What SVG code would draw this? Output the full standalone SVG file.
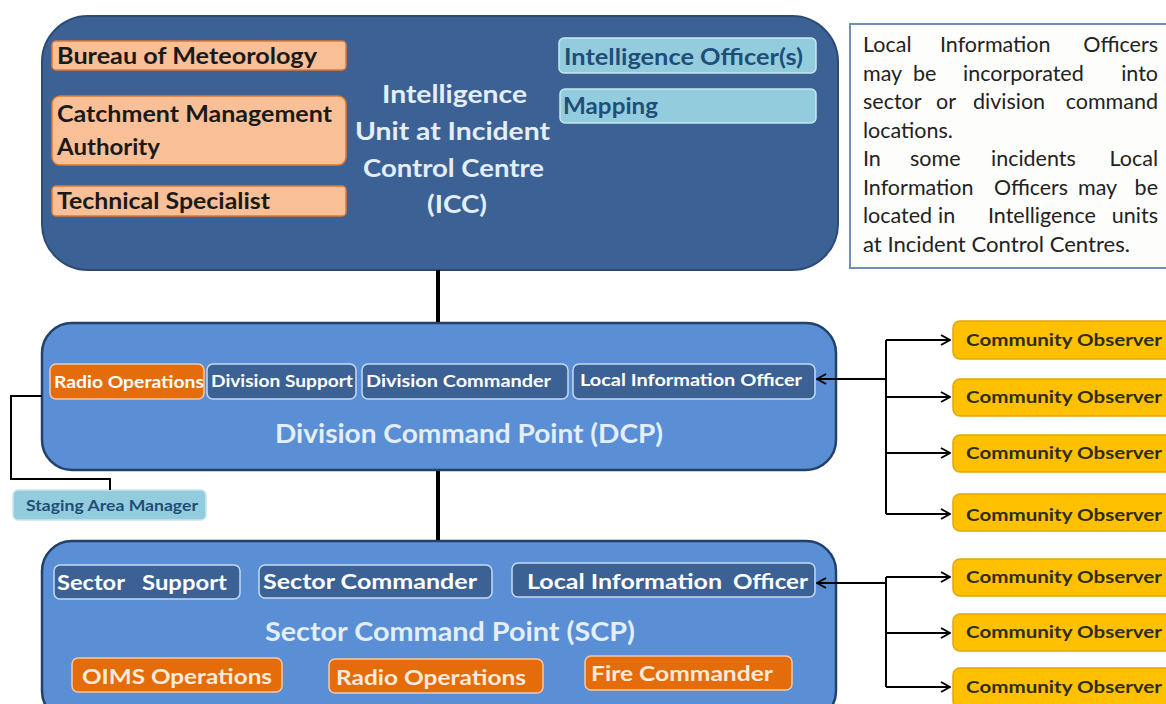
<svg xmlns="http://www.w3.org/2000/svg" width="1166" height="704" viewBox="0 0 1166 704">
  <defs>
    <style>
      text { font-family: Lato, "Open Sans", "Liberation Sans", sans-serif; font-weight: bold; }
      .big { fill: #3c6194; stroke: #2c4a75; stroke-width: 2; }
      .mid { fill: #5a8fd6; stroke: #23416b; stroke-width: 2.5; }
      .peach { fill: #f9bf97; stroke: #e07a2e; stroke-width: 1.5; }
      .peach-t { fill: #1a1a1a; font-size: 22px; }
      .aqua { fill: #93cddd; stroke: #c9e6ef; stroke-width: 1.5; }
      .aqua-t { fill: #1f4e79; font-size: 22px; }
      .navy { fill: #3c6194; stroke: #c6d9f0; stroke-width: 1.5; }
      .navy-t { fill: #ffffff; font-size: 17px; }
      .navy-l { fill: #ffffff; font-size: 21px; }
      .orange { fill: #e46c0a; stroke: #f6c9a5; stroke-width: 1.5; }
      .orange-t { fill: #fdeada; font-size: 21px; }
      .gold { fill: #ffc000; stroke: #e0a800; stroke-width: 1.5; }
      .gold-t { fill: #2d2d1a; font-size: 17px; }
      .title { fill: #e4eef8; font-size: 25px; }
      .note { font-weight: normal; font-size: 21.5px; fill: #222; }
      .end { text-anchor: end; }
      .wire { fill: none; stroke: #000; stroke-width: 2; }
      .trunk { fill: none; stroke: #000; stroke-width: 4; }
    </style>
    <marker id="arr" viewBox="0 0 12 12" refX="11" refY="6" markerWidth="12" markerHeight="12" markerUnits="userSpaceOnUse" orient="auto">
      <path d="M2,1 L11,6 L2,11" fill="none" stroke="#000" stroke-width="2"/>
    </marker>
  </defs>
  <rect width="1166" height="704" fill="#ffffff"/>

  <!-- Intelligence unit -->
  <g id="icc">
    <rect class="big" x="42" y="16" width="796" height="254" rx="46"/>
    <text class="title" x="382" y="103" textLength="145" lengthAdjust="spacingAndGlyphs">Intelligence</text>
    <text class="title" x="355" y="140" textLength="195" lengthAdjust="spacingAndGlyphs">Unit at Incident</text>
    <text class="title" x="363" y="177" textLength="181" lengthAdjust="spacingAndGlyphs">Control Centre</text>
    <text class="title" x="427" y="213" textLength="60" lengthAdjust="spacingAndGlyphs">(ICC)</text>
  </g>
  <g id="bom">
    <rect class="peach" x="52" y="41" width="294" height="29" rx="4"/>
    <text class="peach-t" x="57" y="64" textLength="260" lengthAdjust="spacingAndGlyphs">Bureau of Meteorology</text>
  </g>
  <g id="cma">
    <rect class="peach" x="52" y="96" width="294" height="69" rx="8"/>
    <text class="peach-t" x="57" y="122" textLength="275" lengthAdjust="spacingAndGlyphs">Catchment Management</text>
    <text class="peach-t" x="57" y="155" textLength="103" lengthAdjust="spacingAndGlyphs">Authority</text>
  </g>
  <g id="tech">
    <rect class="peach" x="52" y="186" width="294" height="30" rx="4"/>
    <text class="peach-t" x="57" y="209" textLength="213" lengthAdjust="spacingAndGlyphs">Technical Specialist</text>
  </g>
  <g id="intel-officer">
    <rect class="aqua" x="559" y="38" width="257" height="35" rx="5"/>
    <text class="aqua-t" x="564" y="65" textLength="239" lengthAdjust="spacingAndGlyphs">Intelligence Officer(s)</text>
  </g>
  <g id="mapping">
    <rect class="aqua" x="560" y="89" width="256" height="34" rx="5"/>
    <text class="aqua-t" x="563" y="114" textLength="95" lengthAdjust="spacingAndGlyphs">Mapping</text>
  </g>

  <!-- note, justified word by word -->
  <g id="note">
    <rect x="850" y="24" width="320" height="244" fill="#fdfdfb" stroke="#6d8fba" stroke-width="2"/>
    <text class="note" y="52"><tspan x="863">Local</tspan><tspan x="940">Information</tspan><tspan class="end" x="1158">Officers</tspan></text>
    <text class="note" y="81"><tspan x="863">may</tspan><tspan x="913">be</tspan><tspan x="963">incorporated</tspan><tspan class="end" x="1158">into</tspan></text>
    <text class="note" y="109"><tspan x="863">sector</tspan><tspan x="936">or</tspan><tspan x="973">division</tspan><tspan class="end" x="1158">command</tspan></text>
    <text class="note" x="863" y="138">locations.</text>
    <text class="note" y="166"><tspan x="863">In</tspan><tspan x="910">some</tspan><tspan x="991">incidents</tspan><tspan class="end" x="1158">Local</tspan></text>
    <text class="note" y="195"><tspan x="863">Information</tspan><tspan x="994" textLength="74" lengthAdjust="spacingAndGlyphs">Officers</tspan><tspan x="1078">may</tspan><tspan class="end" x="1158">be</tspan></text>
    <text class="note" y="223"><tspan x="863">located</tspan><tspan x="938">in</tspan><tspan x="988">Intelligence</tspan><tspan class="end" x="1158">units</tspan></text>
    <text class="note" x="863" y="252" textLength="267" lengthAdjust="spacingAndGlyphs">at Incident Control Centres.</text>
  </g>

  <!-- Division command point -->
  <g id="dcp">
    <rect class="mid" x="42" y="323" width="794" height="147" rx="30"/>
    <text class="title" x="275" y="443" style="font-size:27px" textLength="388" lengthAdjust="spacingAndGlyphs">Division Command Point (DCP)</text>
  </g>
  <g id="dcp-radio">
    <rect class="orange" x="50" y="364" width="154" height="35" rx="6"/>
    <text class="navy-t" x="54" y="388" fill="#fdeada" textLength="150" lengthAdjust="spacingAndGlyphs">Radio Operations</text>
  </g>
  <g id="dcp-support">
    <rect class="navy" x="207" y="364" width="149" height="35" rx="6"/>
    <text class="navy-t" x="211" y="387" textLength="142" lengthAdjust="spacingAndGlyphs">Division Support</text>
  </g>
  <g id="dcp-commander">
    <rect class="navy" x="362" y="364" width="206" height="35" rx="6"/>
    <text class="navy-t" x="366" y="387" textLength="185" lengthAdjust="spacingAndGlyphs">Division Commander</text>
  </g>
  <g id="dcp-lio">
    <rect class="navy" x="573" y="364" width="242" height="35" rx="6"/>
    <text class="navy-t" x="580" y="386" textLength="222" lengthAdjust="spacingAndGlyphs">Local Information Officer</text>
  </g>
  <g id="staging">
    <rect class="aqua" x="13" y="490" width="193" height="30" rx="5" stroke="#6fa9bb"/>
    <text class="aqua-t" x="26" y="511" style="font-size:16px" textLength="172" lengthAdjust="spacingAndGlyphs">Staging Area Manager</text>
  </g>

  <!-- Sector command point -->
  <g id="scp">
    <rect class="mid" x="42" y="541" width="794" height="180" rx="30"/>
    <text class="title" x="265" y="641" style="font-size:27px" textLength="370" lengthAdjust="spacingAndGlyphs">Sector Command Point (SCP)</text>
  </g>
  <g id="scp-support">
    <rect class="navy" x="54" y="565" width="186" height="34" rx="6"/>
    <text class="navy-l" y="590"><tspan x="57" textLength="68" lengthAdjust="spacingAndGlyphs">Sector</tspan><tspan x="142" textLength="85" lengthAdjust="spacingAndGlyphs">Support</tspan></text>
  </g>
  <g id="scp-commander">
    <rect class="navy" x="259" y="565" width="233" height="33" rx="6"/>
    <text class="navy-l" x="263" y="589" textLength="214" lengthAdjust="spacingAndGlyphs">Sector Commander</text>
  </g>
  <g id="scp-lio">
    <rect class="navy" x="512" y="563" width="303" height="34" rx="6"/>
    <text class="navy-l" y="589"><tspan x="527" textLength="195" lengthAdjust="spacingAndGlyphs">Local Information</tspan><tspan x="733" textLength="75" lengthAdjust="spacingAndGlyphs">Officer</tspan></text>
  </g>
  <g id="scp-oims">
    <rect class="orange" x="72" y="658" width="210" height="34" rx="6"/>
    <text class="orange-t" x="82" y="684" textLength="190" lengthAdjust="spacingAndGlyphs">OIMS Operations</text>
  </g>
  <g id="scp-radio">
    <rect class="orange" x="329" y="659" width="214" height="34" rx="6"/>
    <text class="orange-t" x="336" y="685" textLength="190" lengthAdjust="spacingAndGlyphs">Radio Operations</text>
  </g>
  <g id="scp-fire">
    <rect class="orange" x="585" y="656" width="207" height="34" rx="6"/>
    <text class="orange-t" x="591" y="681" textLength="182" lengthAdjust="spacingAndGlyphs">Fire Commander</text>
  </g>

  <!-- Community observers -->
  <g id="obs-d1"><rect class="gold" x="953" y="321" width="220" height="38" rx="7"/><text class="gold-t" x="966" y="346" textLength="196" lengthAdjust="spacingAndGlyphs">Community Observer</text></g>
  <g id="obs-d2"><rect class="gold" x="953" y="379" width="220" height="37" rx="7"/><text class="gold-t" x="966" y="403" textLength="196" lengthAdjust="spacingAndGlyphs">Community Observer</text></g>
  <g id="obs-d3"><rect class="gold" x="953" y="435" width="220" height="37" rx="7"/><text class="gold-t" x="966" y="459" textLength="196" lengthAdjust="spacingAndGlyphs">Community Observer</text></g>
  <g id="obs-d4"><rect class="gold" x="953" y="494" width="220" height="37" rx="7"/><text class="gold-t" x="966" y="521" textLength="196" lengthAdjust="spacingAndGlyphs">Community Observer</text></g>
  <g id="obs-s1"><rect class="gold" x="953" y="559" width="220" height="37" rx="7"/><text class="gold-t" x="966" y="583" textLength="196" lengthAdjust="spacingAndGlyphs">Community Observer</text></g>
  <g id="obs-s2"><rect class="gold" x="953" y="614" width="220" height="37" rx="7"/><text class="gold-t" x="966" y="638" textLength="196" lengthAdjust="spacingAndGlyphs">Community Observer</text></g>
  <g id="obs-s3"><rect class="gold" x="953" y="668" width="220" height="40" rx="7"/><text class="gold-t" x="966" y="693" textLength="196" lengthAdjust="spacingAndGlyphs">Community Observer</text></g>

  <!-- connectors, drawn last so the arrowheads sit above the panels -->
  <g id="connectors">
    <line class="trunk" x1="438" y1="270" x2="438" y2="322"/>
    <line class="trunk" x1="438" y1="471" x2="438" y2="540"/>
    <polyline class="wire" points="42,396 11,396 11,479 110,479 110,490"/>
    <!-- division observers -->
    <line class="wire" x1="886" y1="379" x2="817" y2="379" marker-end="url(#arr)"/>
    <line class="wire" x1="886" y1="340" x2="886" y2="514"/>
    <line class="wire" x1="886" y1="340" x2="950" y2="340" marker-end="url(#arr)"/>
    <line class="wire" x1="886" y1="397" x2="950" y2="397" marker-end="url(#arr)"/>
    <line class="wire" x1="886" y1="453" x2="950" y2="453" marker-end="url(#arr)"/>
    <line class="wire" x1="886" y1="514" x2="950" y2="514" marker-end="url(#arr)"/>
    <!-- sector observers -->
    <line class="wire" x1="886" y1="583" x2="817" y2="583" marker-end="url(#arr)"/>
    <line class="wire" x1="886" y1="577" x2="886" y2="687"/>
    <line class="wire" x1="886" y1="577" x2="950" y2="577" marker-end="url(#arr)"/>
    <line class="wire" x1="886" y1="633" x2="950" y2="633" marker-end="url(#arr)"/>
    <line class="wire" x1="886" y1="687" x2="950" y2="687" marker-end="url(#arr)"/>
  </g>
</svg>
